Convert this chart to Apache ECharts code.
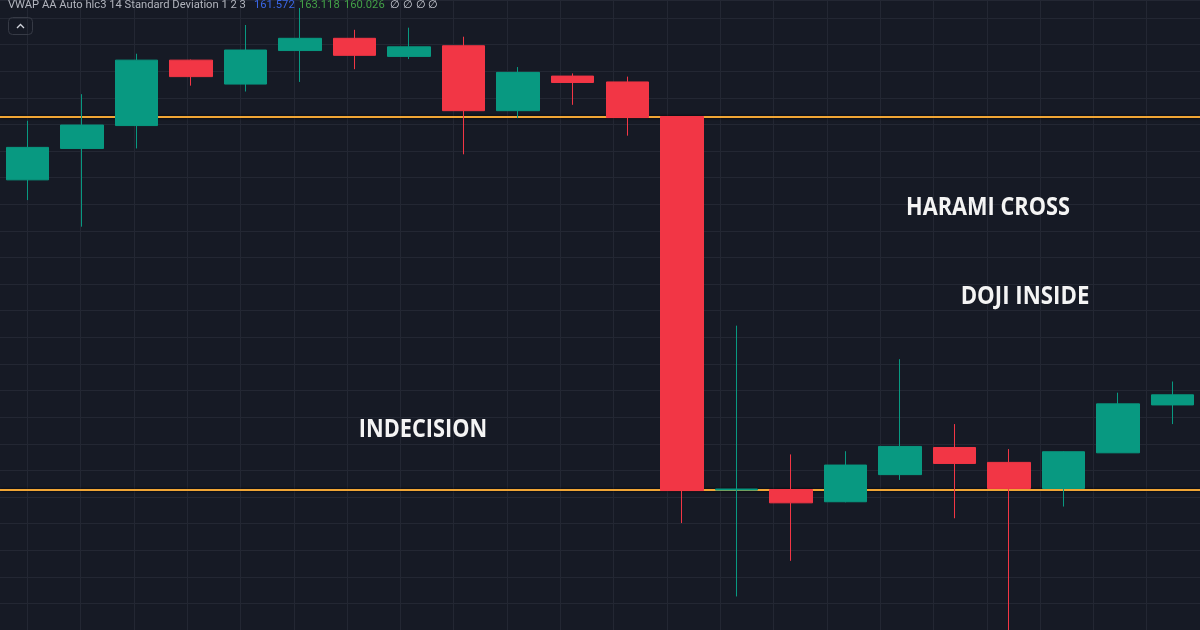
<!DOCTYPE html>
<html>
<head>
<meta charset="utf-8">
<script src="https://cdn.jsdelivr.net/npm/echarts@6/dist/echarts.min.js"></script>
<style>
html,body{margin:0;padding:0;background:#161a25;}
#chart{width:1200px;height:630px;}
</style>
</head>
<body>
<div id="chart"></div>
<script>
// ---- data ----
const categories = ['b1','b2','b3','b4','b5','b6','b7','b8','b9','b10','b11','b12','b13','b14','b15','b16','b17','b18','b19','b20','b21','b22'];
const openP  = [158.46,159.05,159.48,160.71,160.26,160.89,161.12,160.78,160.98,159.76,160.41,160.30,159.65,152.63,152.64,152.41,152.92,153.43,153.15,152.66,153.33,154.23];
const closeP = [159.07,159.49,160.71,160.40,160.90,161.12,160.80,160.96,159.76,160.48,160.29,159.63,152.62,152.65,152.39,153.10,153.45,153.13,152.66,153.35,154.25,154.42];
const lowP   = [158.08,157.58,159.05,160.23,160.12,160.30,160.54,160.73,158.94,159.62,159.87,159.29,152.01,150.63,151.30,152.40,152.82,152.10,149.81,152.32,153.33,153.87];
const highP  = [159.57,160.07,160.83,160.72,161.37,161.69,161.28,161.32,161.15,160.58,160.46,160.40,159.65,155.72,153.30,153.36,155.09,153.87,153.40,153.36,154.46,154.67];
const levels = [159.65, 152.63];
const priceMin = 150, priceMax = 161.84, priceStep = 0.5;
const headerTitle = 'VWAP AA Auto hlc3 14 Standard Deviation 1 2 3';
const headerValues = ['161.572','163.118','160.026'];
const headerEmpty = '\u2205 \u2205 \u2205 \u2205';
const labelTexts = ['HARAMI CROSS','DOJI INSIDE','INDECISION'];

// ---- chart ----
const candles = categories.map((c,i)=>[openP[i], closeP[i], lowP[i], highP[i]]);
const W = 1200, band = W / categories.length;
const gridColor = '#232733';
const UP = '#089981', DOWN = '#f23645';

const chart = echarts.init(document.getElementById('chart'), null, {renderer:'canvas'});
const labelFont = {fontFamily:'Open Sans', fontWeight:700, fontSize:25, fill:'#f4f4f4'};
const hdr = {fontFamily:'Roboto', fontSize:11.2, verticalAlign:'middle'};

chart.setOption({
  backgroundColor:'#161a25',
  animation:false,
  grid:[
    {left:0, right:0, top:0, bottom:0},
    {left:band/2, width:W, top:0, bottom:0}
  ],
  xAxis:[
    {type:'category', data:categories, gridIndex:0, boundaryGap:true,
     axisLine:{show:false}, axisTick:{show:false}, axisLabel:{show:false}, splitLine:{show:false}},
    {type:'value', gridIndex:1, min:0, max:categories.length, interval:1,
     axisLine:{show:false}, axisTick:{show:false}, axisLabel:{show:false},
     splitLine:{show:true, lineStyle:{color:gridColor, width:1}}}
  ],
  yAxis:[
    {type:'value', gridIndex:0, min:priceMin, max:priceMax, interval:priceStep, scale:true,
     axisLine:{show:false}, axisTick:{show:false}, axisLabel:{show:false},
     splitLine:{show:true, lineStyle:{color:gridColor, width:1}}},
    {type:'value', gridIndex:1, min:0, max:1, show:false, splitLine:{show:false}}
  ],
  series:[
    {type:'candlestick', xAxisIndex:0, yAxisIndex:0, data:candles, barWidth:43, clip:true,
     itemStyle:{color:UP, color0:DOWN, borderColor:UP, borderColor0:DOWN, borderWidth:1},
     markLine:{
       z:1, silent:true, symbol:['none','none'], label:{show:false},
       lineStyle:{type:'solid', color:'#f0a535', width:2, shadowColor:'rgba(0,0,0,0.95)', shadowBlur:3},
       data: levels.map(v=>({yAxis:v}))
     }}
  ],
  graphic:{elements:[
    {type:'text', z:100, x:8, y:5.5, style:Object.assign({text:headerTitle, fill:'#b2b5be'}, hdr)},
    {type:'text', z:100, x:254, y:5.5, style:Object.assign({text:headerValues[0], fill:'#3a66e6'}, hdr)},
    {type:'text', z:100, x:299, y:5.5, style:Object.assign({text:headerValues[1], fill:'#43a047'}, hdr)},
    {type:'text', z:100, x:344, y:5.5, style:Object.assign({text:headerValues[2], fill:'#43a047'}, hdr)},
    {type:'text', z:100, x:390, y:5.5, style:Object.assign({text:headerEmpty, fill:'#d1d4dc'}, hdr)},
    {type:'rect', z:100, shape:{x:8.5, y:17.5, width:24, height:17, r:4}, style:{fill:'transparent', stroke:'#363a45', lineWidth:1}},
    {type:'polyline', z:100, shape:{points:[[17,28],[20.5,24.5],[24,28]]}, style:{stroke:'#d1d4dc', lineWidth:1.3, fill:null}},
    {type:'text', z:100, x:988, y:208, scaleX:0.87, style:Object.assign({text:labelTexts[0], align:'center', verticalAlign:'middle'}, labelFont)},
    {type:'text', z:100, x:1025, y:296.5, scaleX:0.89, style:Object.assign({text:labelTexts[1], align:'center', verticalAlign:'middle'}, labelFont)},
    {type:'text', z:100, x:423, y:430, scaleX:0.87, style:Object.assign({text:labelTexts[2], align:'center', verticalAlign:'middle'}, labelFont)}
  ]}
});
</script>
</body>
</html>
